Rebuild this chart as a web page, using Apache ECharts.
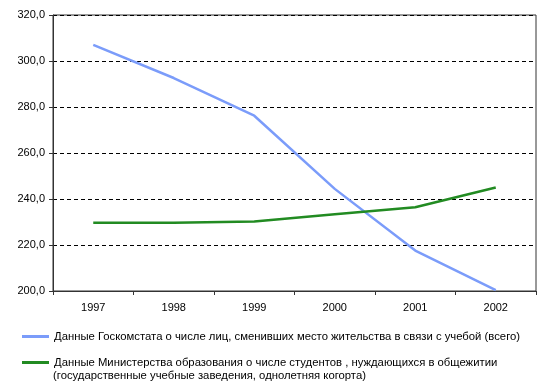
<!DOCTYPE html>
<html><head><meta charset="utf-8">
<script src="https://cdn.jsdelivr.net/npm/echarts@6/dist/echarts.min.js"></script>
<style>html,body{margin:0;padding:0;background:#fff}#c{width:551px;height:388px}</style>
</head><body><div id="c"></div>
<script>
const categories = ['1997','1998','1999','2000','2001','2002'];
const goskomstat = [307.0, 292.6, 276.2, 244.4, 217.6, 200.4];
const minobr = [229.7, 229.7, 230.2, 233.4, 236.4, 245.0];
const name1 = 'Данные Госкомстата о числе лиц, сменивших место жительства в связи с учебой (всего)';
const name2 = 'Данные Министерства образования о числе студентов , нуждающихся в общежитии';
const name2b = '(государственные учебные заведения, однолетняя когорта)';
const yTicks = {min: 200, max: 320, interval: 20};

const font = 'Liberation Sans, Arial, sans-serif';
const chart = echarts.init(document.getElementById('c'));
chart.setOption({
  animation: false,
  grid: {left: 53, right: 15, top: 15, bottom: 97, show: true, borderColor: '#333', borderWidth: 1, backgroundColor: 'transparent'},
  xAxis: {
    type: 'category', data: categories, boundaryGap: true,
    axisLine: {lineStyle: {color: '#333', width: 1}},
    axisTick: {show: true, length: 4, inside: false, lineStyle: {color: '#333'}},
    axisLabel: {color: '#000', fontFamily: font, fontSize: 11, margin: 11},
    splitLine: {show: false}
  },
  yAxis: {
    type: 'value', min: yTicks.min, max: yTicks.max, interval: yTicks.interval,
    axisLine: {show: true, lineStyle: {color: '#333', width: 1}},
    axisTick: {show: true, length: 4, lineStyle: {color: '#333'}},
    axisLabel: {color: '#000', fontFamily: font, fontSize: 11, margin: 8,
      formatter: v => v.toFixed(1).replace('.', ',')},
    splitLine: {show: true, lineStyle: {color: '#000', type: [4, 3], width: 1}}
  },
  legend: [
    {data: [name1], orient: 'vertical', left: 22, top: 331, padding: 0, itemWidth: 27, itemHeight: 3, itemGap: 0,
     icon: 'rect', textStyle: {fontFamily: font, fontSize: 11.3, color: '#000'}},
    {data: [name2], orient: 'vertical', left: 22, top: 357, padding: 0, itemWidth: 27, itemHeight: 3, itemGap: 0,
     icon: 'rect', textStyle: {fontFamily: font, fontSize: 11.3, color: '#000'}}
  ],
  graphic: [{type: 'text', left: 53, top: 370, style: {text: name2b, fontFamily: font, fontSize: 11.3, fill: '#000'}}],
  series: [
    {name: name1, type: 'line', data: goskomstat, symbol: 'none', smooth: false,
     lineStyle: {color: '#7b9cfa', width: 2.5}, itemStyle: {color: '#7b9cfa'}},
    {name: name2, type: 'line', data: minobr, symbol: 'none', smooth: false,
     lineStyle: {color: '#228b22', width: 2.5}, itemStyle: {color: '#228b22'}}
  ]
});
</script></body></html>
